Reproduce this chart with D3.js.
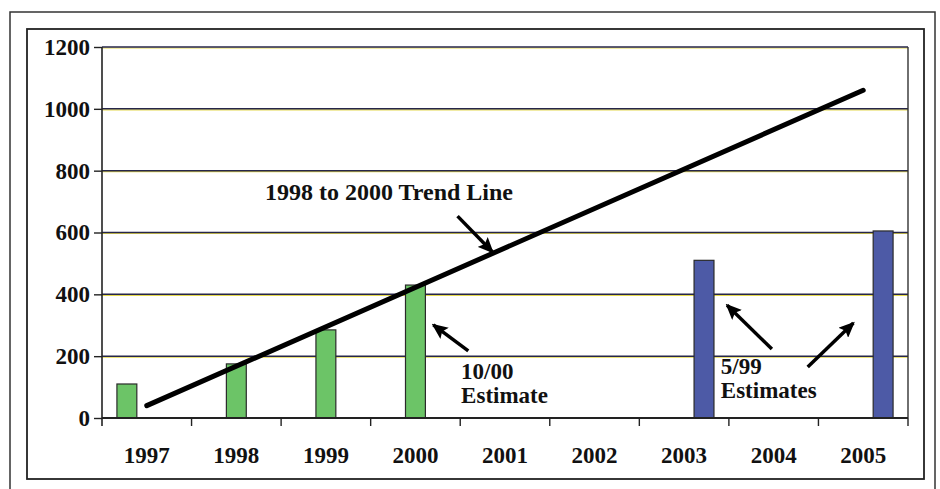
<!DOCTYPE html>
<html>
<head>
<meta charset="utf-8">
<script src="https://cdn.jsdelivr.net/npm/d3@7"></script>
<style>
  body { margin: 0; background: #fff; }
  text { font-family: "Liberation Serif", "Times New Roman", serif; font-weight: bold; fill: #111; }
</style>
</head>
<body>
<div id="chart"></div>
<script>
// chart data
const years = ["1997", "1998", "1999", "2000", "2001", "2002", "2003", "2004", "2005"];
const slots = ["early", "mid", "late"];               // position of a bar inside its year
const barYears = ["1997", "1998", "1999", "2000", "2003", "2005"];
const barValues = [110, 175, 285, 430, 510, 605];
const barSlots = ["early", "mid", "mid", "mid", "late", "late"];
const barSeries = ["actual", "actual", "actual", "actual", "est599", "est599"];
const yTicks = [0, 200, 400, 600, 800, 1000, 1200];

// 1998 to 2000 trend line, extended
const trendYears = [1997, 2005];
const trendValues = [40, 1060];

// annotations, in year / value units
const labels = [
    { text: ["1998 to 2000 Trend Line"], year: 1998.32, value: 705, size: 24 },
    { text: ["10/00", "Estimate"], year: 2000.51, value: 126, size: 23 },
    { text: ["5/99", "Estimates"], year: 2003.41, value: 142, size: 23 }
];
const arrows = [
    { from: [2000.47, 653], to: [2000.86, 537] },
    { from: [2000.59, 217], to: [2000.20, 301] },
    { from: [2003.98, 223], to: [2003.48, 365] },
    { from: [2004.38, 165], to: [2004.89, 307] }
];

const colors = { actual: "#6cc467", est599: "#4d5aa6" };

const W = 940, H = 489;
const plot = { left: 102, right: 908, top: 47, bottom: 418 };

const svg = d3.select("#chart").append("svg")
    .attr("width", W).attr("height", H);

// frames
svg.append("rect").attr("x", 10).attr("y", 12).attr("width", 925).attr("height", 490)
    .attr("fill", "none").attr("stroke", "#333").attr("stroke-width", 1.5);
svg.append("rect").attr("x", 27).attr("y", 29).attr("width", 897).attr("height", 450)
    .attr("fill", "none").attr("stroke", "#222").attr("stroke-width", 1.8);

const x = d3.scaleBand().domain(years).range([plot.left, plot.right]).padding(0);
const xs = d3.scaleBand().domain(slots).range([0, x.bandwidth()]).paddingInner(0).paddingOuter(0.75);
const xl = d3.scaleLinear().domain([1996.5, 2005.5]).range([plot.left, plot.right]);
const y = d3.scaleLinear().domain([0, 1200]).range([plot.bottom, plot.top]);

// gridlines (scan shows a yellow fringe under each)
const grid = svg.append("g");
grid.selectAll(".gy").data(yTicks.slice(1)).enter().append("line")
    .attr("x1", plot.left).attr("x2", plot.right)
    .attr("y1", d => y(d) + 1).attr("y2", d => y(d) + 1)
    .attr("stroke", "#e4d84a").attr("stroke-width", 1.2);
grid.selectAll(".g").data(yTicks.slice(1)).enter().append("line")
    .attr("x1", plot.left).attr("x2", plot.right)
    .attr("y1", d => y(d)).attr("y2", d => y(d))
    .attr("stroke", "#26264a").attr("stroke-width", 1.5);

// right border of plot
svg.append("line")
    .attr("x1", plot.right).attr("x2", plot.right)
    .attr("y1", plot.top).attr("y2", plot.bottom)
    .attr("stroke", "#333").attr("stroke-width", 1.4);

// bars
svg.selectAll(".bar").data(barValues).enter().append("rect")
    .attr("class", "bar")
    .attr("x", (d, i) => x(barYears[i]) + xs(barSlots[i]))
    .attr("width", xs.bandwidth())
    .attr("y", d => y(d))
    .attr("height", d => y(0) - y(d))
    .attr("fill", (d, i) => colors[barSeries[i]])
    .attr("stroke", "#2a2a2a").attr("stroke-width", 1.2);

// y axis
const yAxis = svg.append("g")
    .attr("transform", `translate(${plot.left},0)`)
    .call(d3.axisLeft(y).tickValues(yTicks).tickFormat(d3.format("d")).tickSize(8).tickPadding(4));
yAxis.select(".domain").attr("stroke", "#222").attr("stroke-width", 1.6)
    .attr("d", `M0,${plot.top}V${plot.bottom + 8}`);
yAxis.selectAll(".tick line").attr("stroke", "#222").attr("stroke-width", 1.4);
yAxis.selectAll(".tick text").style("font-size", "23px")
    .style("font-family", "'Liberation Serif', serif").style("font-weight", "bold").attr("fill", "#111");

// x axis: ticks on category boundaries
const xAxis = svg.append("g")
    .attr("transform", `translate(0,${plot.bottom})`);
xAxis.append("line").attr("x1", plot.left).attr("x2", plot.right)
    .attr("stroke", "#222").attr("stroke-width", 1.8);
xAxis.selectAll(".xt").data(years).enter().append("line")
    .attr("x1", d => x(d) + x.bandwidth()).attr("x2", d => x(d) + x.bandwidth())
    .attr("y1", 0).attr("y2", 8)
    .attr("stroke", "#222").attr("stroke-width", 1.4);
xAxis.selectAll(".xl").data(years).enter().append("text")
    .attr("x", d => x(d) + x.bandwidth() / 2)
    .attr("y", 45)
    .attr("text-anchor", "middle")
    .style("font-size", "23px")
    .text(d => d);

// trend line
svg.append("path")
    .datum(trendYears.map((d, i) => [d, trendValues[i]]))
    .attr("d", d3.line().x(d => xl(d[0])).y(d => y(d[1])))
    .attr("stroke", "#000").attr("stroke-width", 5).attr("stroke-linecap", "round")
    .attr("fill", "none");

// arrows
svg.append("defs").append("marker")
    .attr("id", "head")
    .attr("markerUnits", "userSpaceOnUse")
    .attr("viewBox", "0 0 16 14")
    .attr("refX", 14).attr("refY", 7)
    .attr("markerWidth", 16).attr("markerHeight", 14)
    .attr("orient", "auto")
    .append("path").attr("d", "M0,0L16,7L0,14L3,7Z").attr("fill", "#000");

svg.selectAll(".arrow").data(arrows).enter().append("line")
    .attr("x1", d => xl(d.from[0])).attr("y1", d => y(d.from[1]))
    .attr("x2", d => xl(d.to[0])).attr("y2", d => y(d.to[1]))
    .attr("stroke", "#000").attr("stroke-width", 3.5)
    .attr("marker-end", "url(#head)");

// annotation text
labels.forEach(l => {
    const t = svg.append("text")
        .attr("x", xl(l.year)).attr("y", y(l.value))
        .style("font-size", l.size + "px");
    l.text.forEach((s, i) => {
        t.append("tspan").attr("x", xl(l.year)).attr("dy", i === 0 ? 0 : 24).text(s);
    });
});
</script>
</body>
</html>
